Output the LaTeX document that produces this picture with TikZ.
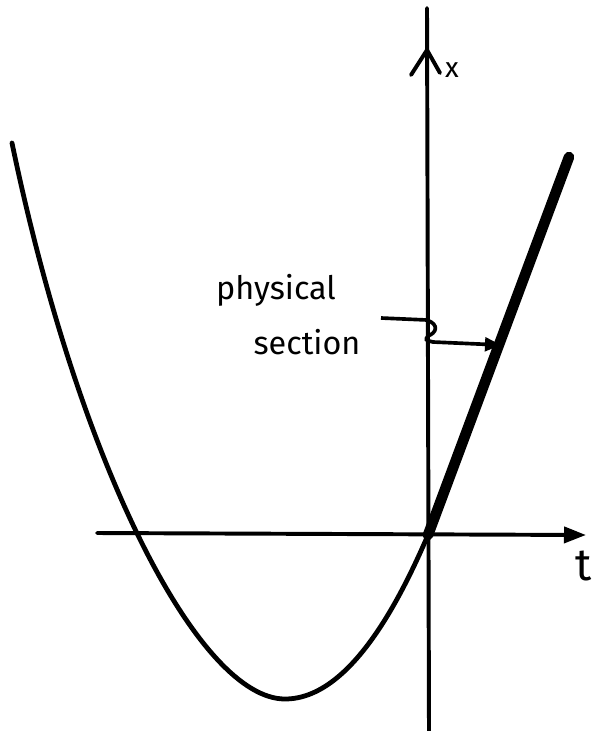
\documentclass[tikz,border=0pt]{standalone}
\usepackage{fontspec}
\setsansfont{Fira Sans}
\usepackage{tikz}
\usetikzlibrary{arrows.meta, positioning, calc}

\begin{document}
\begin{tikzpicture}[
    x=0.025cm, y=-0.025cm,
    axis/.style={line width=2.8pt, line cap=round},
    curve/.style={line width=3.4pt, line cap=round, line join=round},
    phys/.style={line width=7.5pt, line cap=round},
    arrow/.style={-{Triangle[length=4mm, width=3.4mm]}, line width=2.6pt},
    label/.style={font=\sffamily\fontsize{23}{26}\selectfont, inner sep=0pt}
]
\useasboundingbox (0,0) rectangle (596,731);

% axes
\coordinate (o) at (428,535);
\coordinate (tleft) at (97,533);
\coordinate (tright) at (586,535);
\coordinate (xbot) at (429,731);
\coordinate (xtop) at (427,8);
\coordinate (xtip) at (427,50);
\draw[axis, -{Triangle[length=5.5mm, width=4mm]}] (tleft) -- (tright);
\draw[axis] (xbot) -- (xtop);
\draw[axis] ($(xtip)+(-16,25)$) -- (xtip) -- ($(xtip)+(13,23)$);
\node[label, font=\sffamily\fontsize{20}{22}\selectfont] (xlab) at (452,70) {x};
\node[label, font=\sffamily\fontsize{32}{34}\selectfont] (tlab) at (584,566) {t};

% parabola
\coordinate (ptop) at (12,143);
\coordinate (vtx) at (285,699);
\draw[curve] (ptop) .. controls (80,470) and (200,699) .. (vtx)
    .. controls (350,699) and (400,600) .. (o);

% physical section
\coordinate (stop) at (569,157);
\draw[phys] (o) -- (stop);

% label
\node[label] (lphys) at (276,290) {physical};
\node[label] (lsect) at (307,342) {section};
\coordinate (wstart) at (381,318);
\coordinate (wend) at (501,345);
\draw[arrow] (wstart) -- (427,320) .. controls (440,325) and (436,333) .. (428,336)
    .. controls (425,340) .. (433,342) -- (wend);
\end{tikzpicture}
\end{document}
